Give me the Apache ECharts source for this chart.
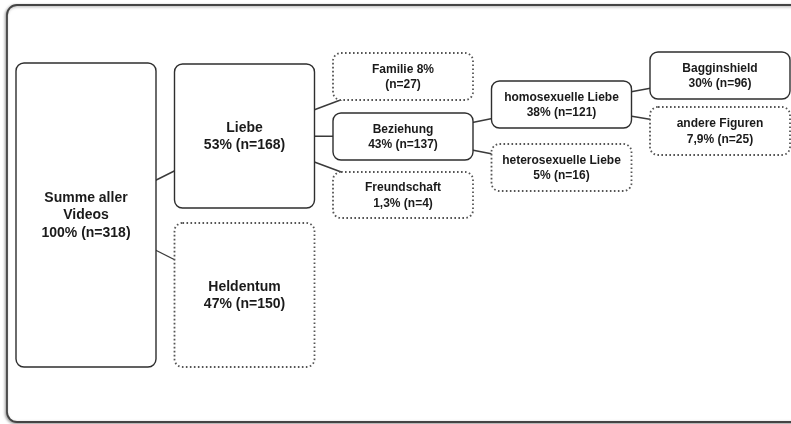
<!DOCTYPE html>
<html>
<head>
<meta charset="utf-8">
<script src="https://cdn.jsdelivr.net/npm/echarts@6/dist/echarts.min.js"></script>
<style>html,body{margin:0;padding:0;background:#fff}#c{width:791px;height:424px}</style>
</head>
<body>
<div id="c"></div>
<script>
// ---- data ----
const names = ['Summe aller\nVideos', 'Liebe', 'Heldentum', 'Familie', 'Beziehung', 'Freundschaft',
  'homosexuelle Liebe', 'heterosexuelle Liebe', 'Bagginshield', 'andere Figuren'];
const percents = ['100%', '53%', '47%', '8%', '43%', '1,3%', '38%', '5%', '30%', '7,9%'];
const counts = [318, 168, 150, 27, 137, 4, 121, 16, 96, 25];
const parents = [null, 0, 0, 1, 1, 1, 4, 4, 6, 6];
const focusPath = [0, 1, 4, 6, 8];          // solid boxes
const percentOnNameLine = [3];              // "Familie 8%" layout of label

// ---- layout (diagram geometry, px units of the hidden axes) ----
const colLeft = 16, colStep = 158.5, boxWidth = 140;
const boxTop =    [63, 64, 223, 53, 113, 172, 81, 144, 52, 107];
const boxBottom = [367, 208, 367, 100, 160, 218, 128, 191, 99, 155];

function depth(i) { let d = 0; while (parents[i] !== null) { i = parents[i]; d++; } return d; }
function label(i) {
  return percentOnNameLine.includes(i)
    ? names[i] + ' ' + percents[i] + '\n(n=' + counts[i] + ')'
    : names[i] + '\n' + percents[i] + ' (n=' + counts[i] + ')';
}
const boxes = names.map((n, i) => {
  const x0 = colLeft + depth(i) * colStep;
  return [x0, boxTop[i], x0 + boxWidth, boxBottom[i], i];
});
const edges = [];
parents.forEach((p, i) => {
  if (p === null) return;
  const a = boxes[p], b = boxes[i];
  edges.push([(a[0] + a[2]) / 2, (a[1] + a[3]) / 2, (b[0] + b[2]) / 2, (b[1] + b[3]) / 2]);
});

const chart = echarts.init(document.getElementById('c'), null, { renderer: 'canvas' });
chart.setOption({
  backgroundColor: '#fff',
  animation: false,
  grid: { left: 0, right: 0, top: 0, bottom: 0 },
  xAxis: { type: 'value', min: 0, max: 791, show: false },
  yAxis: { type: 'value', min: 0, max: 424, inverse: true, show: false },
  graphic: [{
    type: 'rect', z: 0,
    shape: { x: 7, y: 5, width: 800, height: 417, r: 10 },
    style: { fill: '#fff', stroke: '#444', lineWidth: 1.8, shadowBlur: 3, shadowColor: 'rgba(0,0,0,0.35)', shadowOffsetX: -1, shadowOffsetY: 1 }
  }],
  series: [{
    type: 'custom', z: 2, silent: true,
    data: edges,
    renderItem: function (params, api) {
      const p1 = api.coord([api.value(0), api.value(1)]);
      const p2 = api.coord([api.value(2), api.value(3)]);
      return { type: 'line', shape: { x1: p1[0], y1: p1[1], x2: p2[0], y2: p2[1] },
        style: { stroke: '#3a3a3a', lineWidth: 1.4 } };
    }
  }, {
    type: 'custom', z: 3, silent: true,
    data: boxes,
    renderItem: function (params, api) {
      const i = api.value(4);
      const p1 = api.coord([api.value(0), api.value(1)]);
      const p2 = api.coord([api.value(2), api.value(3)]);
      const solid = focusPath.includes(i);
      const big = depth(i) <= 1;
      return { type: 'group', children: [{
        type: 'rect',
        shape: { x: p1[0], y: p1[1], width: p2[0] - p1[0], height: p2[1] - p1[1], r: 8 },
        style: solid
          ? { fill: '#fff', stroke: '#2e2e2e', lineWidth: 1.4 }
          : { fill: '#fff', stroke: '#555', lineWidth: 1.8, lineDash: [1.6, 2.4] }
      }, {
        type: 'text',
        style: {
          text: label(i), x: (p1[0] + p2[0]) / 2, y: (p1[1] + p2[1]) / 2 + 0.5,
          align: 'center', verticalAlign: 'middle',
          font: 'bold ' + (big ? 14 : 12) + 'px "Liberation Sans", Arial, sans-serif',
          lineHeight: big ? 17.5 : 15.5, fill: '#1a1a1a'
        }
      }] };
    }
  }]
});
</script>
</body>
</html>
